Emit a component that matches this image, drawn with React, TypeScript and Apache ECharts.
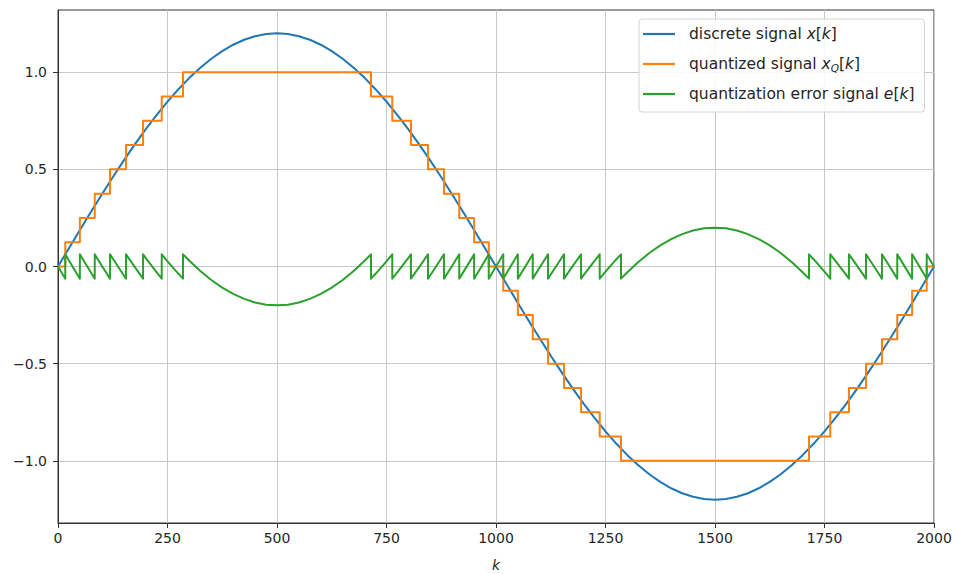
import React, { useEffect, useRef } from "react";
import * as echarts from "echarts";

// Discrete signal x[k], sampled every 25 samples over k = 0 … 2000
const sampleSpacing = 25;
const signalValues = [
  0, 0.0942, 0.1877, 0.2801, 0.3708, 0.4592, 0.5448, 0.627, 0.7053, 0.7793,
  0.8485, 0.9125, 0.9708, 1.0232, 1.0692, 1.1087, 1.1413, 1.1668, 1.1852, 1.1963,
  1.2,
  1.1963, 1.1852, 1.1668, 1.1413, 1.1087, 1.0692, 1.0232, 0.9708, 0.9125, 0.8485,
  0.7793, 0.7053, 0.627, 0.5448, 0.4592, 0.3708, 0.2801, 0.1877, 0.0942, 0,
  -0.0942, -0.1877, -0.2801, -0.3708, -0.4592, -0.5448, -0.627, -0.7053, -0.7793, -0.8485,
  -0.9125, -0.9708, -1.0232, -1.0692, -1.1087, -1.1413, -1.1668, -1.1852, -1.1963, -1.2,
  -1.1963, -1.1852, -1.1668, -1.1413, -1.1087, -1.0692, -1.0232, -0.9708, -0.9125, -0.8485,
  -0.7793, -0.7053, -0.627, -0.5448, -0.4592, -0.3708, -0.2801, -0.1877, -0.0942, 0,
];

// Quantized signal xQ[k]: sample index where the level changes, and the new level
const initialLevel = 0;
const stepPositions = [
  16.6, 49.9, 83.9, 118.8, 155.3, 194.2, 236.8, 285.4,
  714.6, 763.2, 805.8, 844.7, 881.2, 916.1, 950.1, 983.4,
  1016.6, 1049.9, 1083.9, 1118.8, 1155.3, 1194.2, 1236.8, 1285.4,
  1714.6, 1763.2, 1805.8, 1844.7, 1881.2, 1916.1, 1950.1, 1983.4,
];
const stepLevels = [
  0.125, 0.25, 0.375, 0.5, 0.625, 0.75, 0.875, 1.0,
  0.875, 0.75, 0.625, 0.5, 0.375, 0.25, 0.125, 0,
  -0.125, -0.25, -0.375, -0.5, -0.625, -0.75, -0.875, -1.0,
  -0.875, -0.75, -0.625, -0.5, -0.375, -0.25, -0.125, 0,
];

const kMin = 0;
const kMax = 2000;
const kInterval = 250;
const yTicks = [-1, -0.5, 0, 0.5, 1];
const yLimit = 1.32;

const seriesNames = [
  "discrete signal x[k]",
  "quantized signal xQ[k]",
  "quantization error signal e[k]",
];
const legendLabels: Record<string, string> = {
  "discrete signal x[k]": "discrete signal {i|x}[{i|k}]",
  "quantized signal xQ[k]": "quantized signal {i|x}{sub|Q}[{i|k}]",
  "quantization error signal e[k]": "quantization error signal {i|e}[{i|k}]",
};
const colors = ["#1f77b4", "#ff7f0e", "#2ca02c"];

const FONT = "DejaVu Sans";
const TEXT = "#262626";

function levelAt(k: number): number {
  let level = initialLevel;
  for (let j = 0; j < stepPositions.length; j++) {
    if (stepPositions[j] <= k) level = stepLevels[j];
  }
  return level;
}

function buildSeries() {
  const signal = signalValues.map((v, i) => [i * sampleSpacing, v]);

  // quantized staircase
  const quantized: number[][] = [[kMin, initialLevel]];
  let prev = initialLevel;
  stepPositions.forEach((k, j) => {
    quantized.push([k, prev], [k, stepLevels[j]]);
    prev = stepLevels[j];
  });
  quantized.push([kMax, prev]);

  // error e[k] = xQ[k] - x[k]; at a level change x sits on the decision threshold
  type Ev = { k: number; kind: "s" | "t"; idx: number };
  const events: Ev[] = [
    ...signalValues.map((_, i) => ({ k: i * sampleSpacing, kind: "s" as const, idx: i })),
    ...stepPositions.map((k, j) => ({ k, kind: "t" as const, idx: j })),
  ].sort((a, b) => a.k - b.k);
  const error: number[][] = [];
  events.forEach((ev) => {
    if (ev.kind === "s") {
      error.push([ev.k, +(levelAt(ev.k) - signalValues[ev.idx]).toFixed(4)]);
    } else {
      const before = ev.idx === 0 ? initialLevel : stepLevels[ev.idx - 1];
      const after = stepLevels[ev.idx];
      const threshold = (before + after) / 2;
      error.push([ev.k, before - threshold], [ev.k, after - threshold]);
    }
  });
  return [signal, quantized, error];
}

export default function App() {
  const ref = useRef<HTMLDivElement>(null);

  useEffect(() => {
    if (!ref.current) return;
    const chart = echarts.init(ref.current, null, { renderer: "svg" });
    const data = buildSeries();

    chart.setOption({
      animation: false,
      backgroundColor: "#ffffff",
      textStyle: { fontFamily: FONT },
      grid: {
        left: 58,
        right: 23,
        top: 10,
        bottom: 51,
        show: true,
        borderColor: "#333333",
        borderWidth: 1,
        backgroundColor: "transparent",
        outerBoundsMode: "none",
      },
      legend: {
        orient: "vertical",
        left: 639,
        top: 19,
        padding: [6, 10, 9, 4],
        itemGap: 12,
        itemWidth: 32,
        itemHeight: 2.2,
        icon: "rect",
        backgroundColor: "rgba(255,255,255,0.85)",
        borderColor: "#d4d4d4",
        borderWidth: 1,
        borderRadius: 3,
        data: seriesNames,
        formatter: (name: string) => legendLabels[name],
        textStyle: {
          fontFamily: FONT,
          fontSize: 15.5,
          color: TEXT,
          lineHeight: 18,
          padding: [0, 0, 0, 9],
          rich: {
            i: { fontFamily: FONT, fontSize: 15.5, fontStyle: "italic", color: TEXT, lineHeight: 18 },
            sub: {
              fontFamily: FONT,
              fontSize: 10.5,
              fontStyle: "italic",
              color: TEXT,
              lineHeight: 18,
              verticalAlign: "bottom",
            },
          },
        },
      },
      xAxis: {
        type: "value",
        min: kMin,
        max: kMax,
        interval: kInterval,
        name: "k",
        nameLocation: "middle",
        nameGap: 35,
        nameTextStyle: { fontFamily: FONT, fontSize: 14, fontStyle: "italic", color: TEXT },
        axisLine: { show: true, onZero: false, lineStyle: { color: "#333333", width: 1 } },
        axisTick: { show: true, length: 5, lineStyle: { color: "#333333", width: 1 } },
        axisLabel: {
          fontFamily: FONT,
          fontSize: 14,
          color: TEXT,
          margin: 8,
          formatter: (v: number) => String(v),
        },
        splitLine: { show: true, lineStyle: { color: "#c8c8c8", width: 1 } },
      },
      yAxis: {
        type: "value",
        min: -yLimit,
        max: yLimit,
        axisLine: { show: true, onZero: false, lineStyle: { color: "#333333", width: 1 } },
        axisTick: {
          show: true,
          length: 5,
          customValues: yTicks,
          lineStyle: { color: "#333333", width: 1 },
        },
        axisLabel: {
          fontFamily: FONT,
          fontSize: 14,
          color: TEXT,
          margin: 11,
          customValues: yTicks,
          formatter: (v: number) => v.toFixed(1).replace("-", "\u2212"),
        },
        splitLine: { show: true, lineStyle: { color: "#c8c8c8", width: 1 } },
      },
      series: seriesNames.map((name, i) => ({
        name,
        type: "line",
        data: data[i],
        showSymbol: false,
        symbol: "none",
        color: colors[i],
        lineStyle: { color: colors[i], width: 2, join: "round" },
        z: 2 + i,
        clip: true,
      })),
    });

    return () => chart.dispose();
  }, []);

  return (
    <div
      ref={ref}
      style={{ position: "fixed", left: 0, top: 0, width: 957, height: 574 }}
    />
  );
}
